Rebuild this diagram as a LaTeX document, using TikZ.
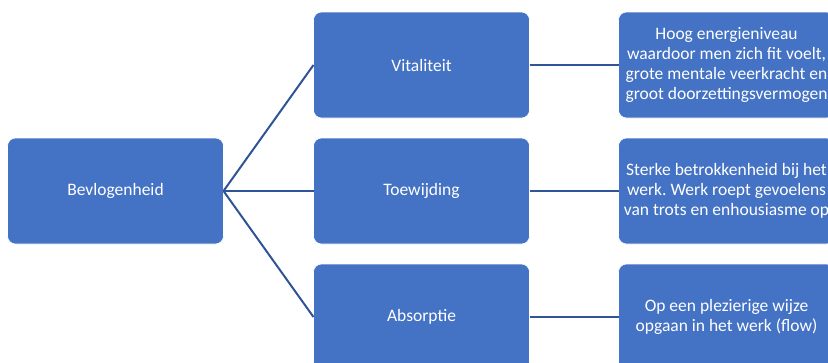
\documentclass[tikz,border=0pt]{standalone}
\usepackage{fontspec}
\setmainfont{Carlito}
\frenchspacing
\usetikzlibrary{positioning}
\definecolor{vakblauw}{HTML}{4472C4}
\definecolor{lijnblauw}{HTML}{2F5597}
\begin{document}
\begin{tikzpicture}[x=1pt, y=1pt,
  lijn/.style={draw=lijnblauw, line width=2pt},
  vak/.style={draw=white, line width=.6pt, fill=vakblauw, rounded corners=8pt,
    text=white, font={\fontsize{17.5}{20}\selectfont}, align=center,
    minimum width=216pt, minimum height=106pt, inner sep=0pt, outer sep=0pt}]
\useasboundingbox (0,0) rectangle (828,-362);
\clip (0,0) rectangle (828,-362);
\node[vak] (bevlogenheid) at (115.5,-191) {Bevlogenheid};
\node[vak, right=90pt of bevlogenheid] (toewijding) {Toewijding};
\node[vak, above=20pt of toewijding] (vitaliteit) {Vitaliteit};
\node[vak, below=20pt of toewijding] (absorptie) {Absorptie};
\node[vak, right=89pt of vitaliteit] (energie) {Hoog energieniveau\\waardoor men zich fit voelt,\\grote mentale veerkracht en\\groot doorzettingsvermogen};
\node[vak, right=89pt of toewijding] (betrokkenheid) {Sterke betrokkenheid bij het\\werk. Werk roept gevoelens\\van trots en enhousiasme op};
\node[vak, right=89pt of absorptie] (flow) {Op een plezierige wijze\\opgaan in het werk (flow)};
\path[lijn] (bevlogenheid.east) -- (vitaliteit.west);
\path[lijn] (bevlogenheid.east) -- (toewijding.west);
\path[lijn] (bevlogenheid.east) -- (absorptie.west);
\path[lijn] (vitaliteit) -- (energie);
\path[lijn] (toewijding) -- (betrokkenheid);
\path[lijn] (absorptie) -- (flow);
\end{tikzpicture}
\end{document}
